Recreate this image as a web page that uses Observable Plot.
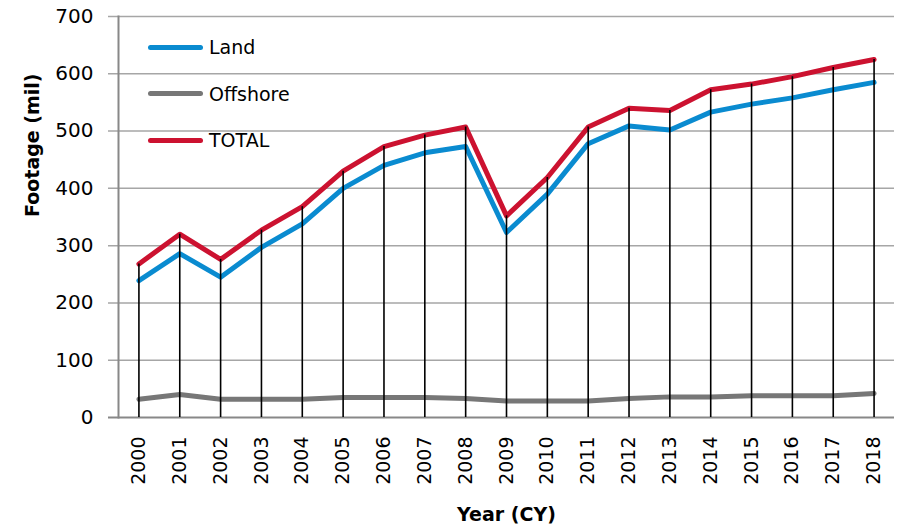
<!DOCTYPE html>
<html>
<head>
<meta charset="utf-8">
<script src="https://cdn.jsdelivr.net/npm/d3@7"></script>
<script src="https://cdn.jsdelivr.net/npm/@observablehq/plot@0.6"></script>
<style>
  html, body { margin: 0; padding: 0; background: #fff; }
  #wrap { position: relative; width: 899px; height: 530px; font-family: "DejaVu Sans", sans-serif; }
  #legend { position: absolute; left: 148px; top: 24px; font-size: 19px; color: #000; }
  .item { display: flex; align-items: center; height: 46.5px; }
  .swatch { width: 55px; height: 5px; border-radius: 3px; margin-right: 6px; }
</style>
</head>
<body>
<div id="wrap"></div>
<script>
const years = ["2000","2001","2002","2003","2004","2005","2006","2007","2008","2009","2010","2011","2012","2013","2014","2015","2016","2017","2018"];
const land = [239, 286, 245, 297, 338, 400, 440, 462, 473, 323, 390, 478, 509, 502, 533, 547, 558, 572, 585];
const offshore = [32, 40, 32, 32, 32, 35, 35, 35, 33, 29, 29, 29, 33, 36, 36, 38, 38, 38, 42];
const total = [268, 320, 276, 327, 368, 430, 473, 493, 507, 352, 419, 507, 540, 536, 572, 582, 595, 611, 625];
const yTicks = [0, 100, 200, 300, 400, 500, 600, 700];
const seriesNames = ["Land", "Offshore", "TOTAL"];
const seriesColors = ["#0a8bd0", "#777777", "#cc1230"];

const seriesValues = [land, offshore, total];
const rows = [];
seriesNames.forEach((name, s) => {
  years.forEach((yr, i) => rows.push({year: yr, value: seriesValues[s][i], series: name}));
});
const totals = years.map((yr, i) => ({year: yr, value: total[i]}));

const chart = Plot.plot({
  width: 899,
  height: 530,
  marginLeft: 118,
  marginRight: 5,
  marginTop: 16,
  marginBottom: 113,
  style: {fontFamily: "DejaVu Sans, sans-serif", fontSize: "19px", color: "#000", background: "#fff"},
  x: {type: "point", domain: years, padding: 0.5, round: false, label: null},
  y: {domain: [0, 700], label: null},
  color: {domain: seriesNames, range: seriesColors},
  marks: [
    Plot.ruleY(yTicks.filter(d => d > 0), {stroke: "#a6a6a6", strokeWidth: 1.5, insetLeft: -10}),
    Plot.ruleY([0], {stroke: "#888888", strokeWidth: 2, insetLeft: -10}),
    Plot.frame({anchor: "left", stroke: "#888888", strokeWidth: 2}),
    Plot.axisY({ticks: yTicks, tickSize: 0, tickPadding: 25, fontSize: 20, label: null}),
    Plot.axisX({tickSize: 0, tickRotate: -90, tickPadding: 19, fontSize: 19, label: null}),
    Plot.line(rows, {x: "year", y: "value", z: "series", stroke: "series", strokeWidth: 5, strokeLinejoin: "round", strokeLinecap: "round"}),
    Plot.ruleX(totals, {x: "year", y1: 0, y2: "value", stroke: "#000", strokeWidth: 1.6}),
    Plot.text(["Year (CY)"], {frameAnchor: "bottom", dy: 103, fontWeight: "bold", fontSize: 19}),
    Plot.text(["Footage (mil)"], {frameAnchor: "left", dx: -86, rotate: -90, fontWeight: "bold", fontSize: 19})
  ]
});

const wrap = document.getElementById("wrap");
wrap.appendChild(chart);

const legend = document.createElement("div");
legend.id = "legend";
seriesNames.forEach((name, i) => {
  const item = document.createElement("div");
  item.className = "item";
  const sw = document.createElement("div");
  sw.className = "swatch";
  sw.style.background = seriesColors[i];
  const lab = document.createElement("span");
  lab.textContent = name;
  item.appendChild(sw);
  item.appendChild(lab);
  legend.appendChild(item);
});
wrap.appendChild(legend);
</script>
</body>
</html>
